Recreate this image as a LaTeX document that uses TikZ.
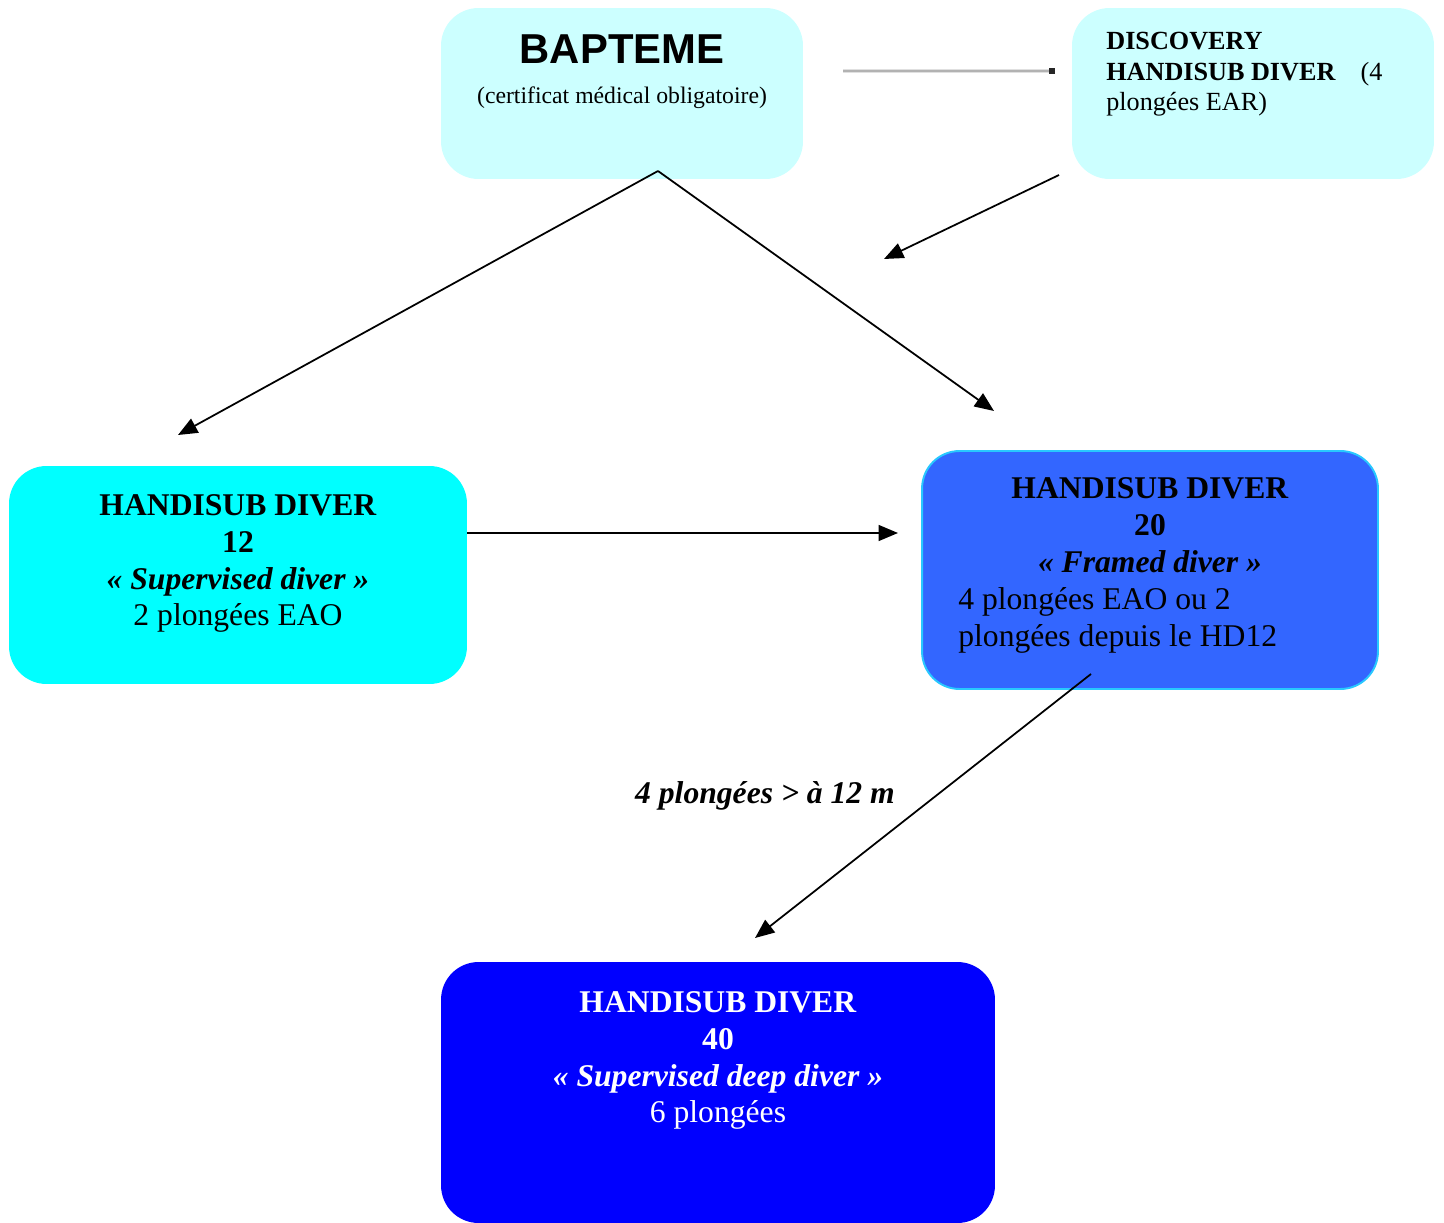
\documentclass[tikz,border=0pt]{standalone}
\usepackage{fontspec}
\setmainfont{Liberation Serif}
\newfontfamily\headfont{Liberation Sans}
\usetikzlibrary{arrows.meta, positioning}
\definecolor{paleaqua}{RGB}{204, 255, 255}
\definecolor{aqua}{RGB}{0, 255, 255}
\definecolor{midblue}{RGB}{51, 102, 255}
\definecolor{skyedge}{RGB}{40, 200, 255}
\definecolor{deepblue}{RGB}{0, 0, 255}

\begin{document}
\begin{tikzpicture}[x=0.02cm, y=-0.02cm,
  stage/.style={rounded corners=0.75cm, inner sep=0pt, outer sep=0pt},
  stagetext/.style={inner sep=0pt, align=center, anchor=north, font=\fontsize{18}{21}\selectfont},
  flow/.style={-{Triangle[length=11pt, width=9pt]}, line width=1pt}]
  \useasboundingbox (0,0) rectangle (1444,1223);

  % Top row
  \node[stage, fill=paleaqua, minimum width=7.24cm, minimum height=3.42cm] (bapteme) at (622, 93.5) {};
  \node[inner sep=0pt, anchor=north, font=\headfont\bfseries\fontsize{23.8}{26}\selectfont] (baptTitle) at (622, 34) {BAPTEME};
  \node[inner sep=0pt, anchor=base, font=\fontsize{13.5}{15}\selectfont] (baptNote) at (622, 104) {(certificat médical obligatoire)};

  \node[stage, fill=paleaqua, minimum width=7.24cm, minimum height=3.42cm] (discovery) at (1253, 93.5) {};
  \node[inner sep=0pt, anchor=north west, align=left, font=\fontsize{14.9}{17.3}\selectfont] (discText) at (1106, 32) {
    \textbf{DISCOVERY}\\\textbf{HANDISUB DIVER}\hspace{0.95em}(4\\plongées EAR)
  };

  % Middle row
  \node[stage, fill=aqua, minimum width=9.16cm, minimum height=4.36cm] (hdTwelve) at (238, 575) {};
  \node[stagetext] (hdTwelveText) at (238, 494) {
    \textbf{HANDISUB DIVER}\\\textbf{12}\\\textbf{\itshape « Supervised diver »}\\2 plongées EAO
  };

  \node[stage, fill=midblue, draw=skyedge, line width=1.1pt, minimum width=9.12cm, minimum height=4.76cm] (hdTwenty) at (1150, 570) {};
  \node[stagetext] (hdTwentyHead) at (1150, 477) {
    \textbf{HANDISUB DIVER}\\\textbf{20}\\\textbf{\itshape « Framed diver »}
  };
  \node[stagetext, anchor=north west, align=left] (hdTwentyBody) at (958, 587) {
    4 plongées EAO ou 2\\plongées depuis le HD12
  };

  % Bottom
  \node[stage, fill=deepblue, minimum width=11.08cm, minimum height=5.22cm] (hdForty) at (718, 1092.5) {};
  \node[stagetext, text=white] (hdFortyText) at (718, 991) {
    \textbf{HANDISUB DIVER}\\\textbf{40}\\\textbf{\itshape « Supervised deep diver »}\\6 plongées
  };

  % Connectors
  \coordinate (baptFork) at (658, 171);
  \coordinate (baptSide) at (843, 71);
  \coordinate (discIn) at (1055, 71);
  \coordinate (discOut) at (1059, 175);
  \coordinate (discEnd) at (884, 259);
  \coordinate (twelveIn) at (178, 435);
  \coordinate (twentyIn) at (994, 411);
  \coordinate (twelveOut) at (467, 533);
  \coordinate (twentySide) at (898, 533);
  \coordinate (twentyOut) at (1091, 674);
  \coordinate (fortyIn) at (755, 938);

  \draw[line width=2.6pt, black!12] (baptSide) -- (discIn);
  \draw[line width=1pt, black!30, -{Square[length=3.4pt, width=3.4pt, black!85]}] (baptSide) -- (discIn);
  \draw[flow] (discOut) -- (discEnd);
  \draw[flow] (baptFork) -- (twelveIn);
  \draw[flow] (baptFork) -- (twentyIn);
  \draw[flow] (twelveOut) -- (twentySide);
  \draw[flow] (twentyOut) -- (fortyIn);

  \node[inner sep=0pt, anchor=base, font=\bfseries\itshape\fontsize{18}{21}\selectfont] (depthLabel) at (765, 803) {4 plongées > à 12 m};
\end{tikzpicture}
\end{document}
